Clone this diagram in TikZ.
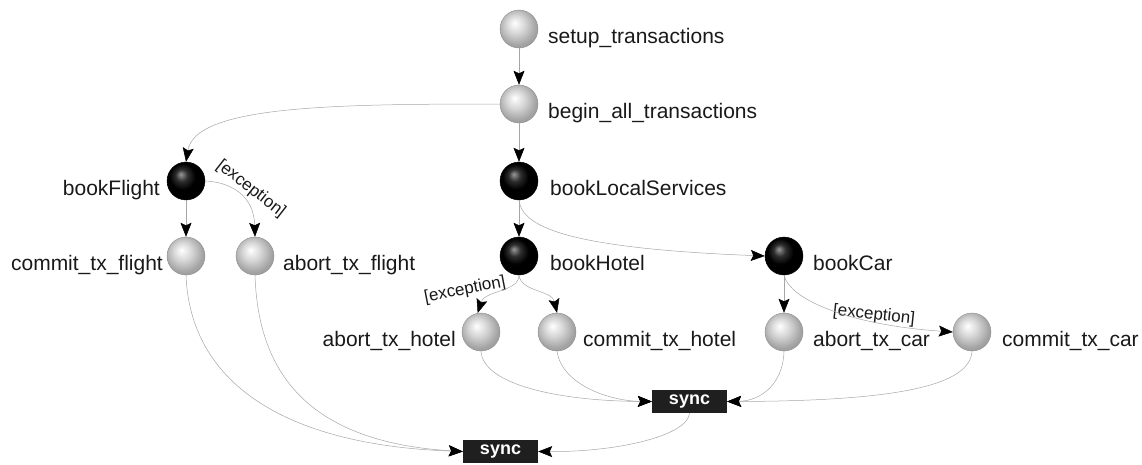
\documentclass[tikz,border=0pt]{standalone}
\usepackage{fontspec}
\setmainfont{Liberation Sans}
\usetikzlibrary{arrows.meta}
\pgfdeclareradialshading{lightball}{\pgfqpoint{-6bp}{8bp}}{color(0bp)=(white); color(12bp)=(black!16); color(25bp)=(black!36); color(50bp)=(black!50)}
\pgfdeclareradialshading{darkball}{\pgfqpoint{-7bp}{9bp}}{color(0bp)=(black!40); color(8bp)=(black!82); color(17bp)=(black); color(50bp)=(black)}
\tikzset{
  lball/.style={circle, minimum size=38pt, inner sep=0pt, shading=lightball, draw=black!45, line width=0.4pt},
  dball/.style={circle, minimum size=38pt, inner sep=0pt, shading=darkball, draw=black, line width=0.4pt},
  lbl/.style={font=\fontsize{21}{24}\selectfont, text=black!90, inner sep=0pt},
  exc/.style={font=\fontsize{17}{20}\selectfont, text=black!90, inner sep=0pt},
  syncbox/.style={fill=black!88, text=white, font=\fontsize{18}{20}\selectfont\bfseries, minimum width=75pt, minimum height=23pt, inner sep=0pt},
  conn/.style={draw=black!35, line width=0.5pt, -{Stealth[length=14pt,width=11pt,inset=2.5pt,color=black,fill=black]}}
}
\begin{document}
\begin{tikzpicture}[x=1pt,y=-1pt]
\useasboundingbox (0,0) rectangle (1142,464);
% nodes
\node[lball] (setup) at (519,29) {};
\node[lball] (begin) at (519,104) {};
\node[dball] (bookLS) at (519,181) {};
\node[dball] (bookFlight) at (186,181) {};
\node[lball] (commitF) at (186,256) {};
\node[lball] (abortF) at (255,256) {};
\node[dball] (bookHotel) at (519,256) {};
\node[dball] (bookCar) at (784,256) {};
\node[lball] (abortH) at (481,332) {};
\node[lball] (commitH) at (557,332) {};
\node[lball] (abortC) at (784,332) {};
\node[lball] (commitC) at (972,332) {};
\node[syncbox] (sync1) at (689.5,401.5) {sync};
\node[syncbox] (sync2) at (500.5,451.5) {sync};
% labels
\node[lbl, anchor=base west] (l-setup) at (548,43) {setup\_transactions};
\node[lbl, anchor=base west] (l-begin) at (548,118) {begin\_all\_transactions};
\node[lbl, anchor=base west] (l-bookLS) at (550,195) {bookLocalServices};
\node[lbl, anchor=base east] (l-bookFlight) at (160,195) {bookFlight};
\node[lbl, anchor=base east] (l-commitF) at (163,270) {commit\_tx\_flight};
\node[lbl, anchor=base west] (l-abortF) at (283,270) {abort\_tx\_flight};
\node[lbl, anchor=base west] (l-bookHotel) at (550,270) {bookHotel};
\node[lbl, anchor=base west] (l-bookCar) at (813,270) {bookCar};
\node[lbl, anchor=base east] (l-abortH) at (456,346) {abort\_tx\_hotel};
\node[lbl, anchor=base west] (l-commitH) at (583,346) {commit\_tx\_hotel};
\node[lbl, anchor=base west] (l-abortC) at (813,346) {abort\_tx\_car};
\node[lbl, anchor=base west] (l-commitC) at (1002,346) {commit\_tx\_car};
\node[exc, rotate=-38] (e-flight) at (251,189) {[exception]};
\node[exc, rotate=11] (e-hotel) at (465,290) {[exception]};
\node[exc, rotate=-6] (e-car) at (874,315) {[exception]};
% connectors
\draw[conn] (setup) -- (begin);
\draw[conn] (begin) -- (bookLS);
\draw[conn] (begin.west) .. controls (330,104) and (195,106) .. (bookFlight.north);
\draw[conn] (bookFlight) -- (commitF);
\draw[conn] (bookFlight.east) .. controls (230,182) and (254,195) .. (abortF.north);
\draw[conn] (bookLS) -- (bookHotel);
\draw[conn] (bookLS.south) .. controls (522,225) and (560,248) .. (bookCar.west);
\draw[conn] (bookHotel.south) .. controls (519,292) and (485,290) .. (abortH.100);
\draw[conn] (bookHotel.south) .. controls (521,292) and (552,290) .. (commitH.north);
\draw[conn] (bookCar) -- (abortC);
\draw[conn] (bookCar.south) .. controls (790,300) and (850,325) .. (commitC.west);
\draw[conn] (abortH.south) .. controls (483,385) and (560,401) .. (sync1.west);
\draw[conn] (commitH.south) .. controls (562,385) and (610,401) .. (sync1.west);
\draw[conn] (abortC.south) .. controls (783,385) and (760,401) .. (sync1.east);
\draw[conn] (commitC.south) .. controls (970,385) and (900,401) .. (sync1.east);
\draw[conn] (sync1.south) .. controls (688,435) and (620,452) .. (sync2.east);
\draw[conn] (commitF.south) .. controls (190,380) and (280,445) .. (sync2.west);
\draw[conn] (abortF.south) .. controls (258,370) and (305,442) .. (sync2.west);
\end{tikzpicture}
\end{document}
